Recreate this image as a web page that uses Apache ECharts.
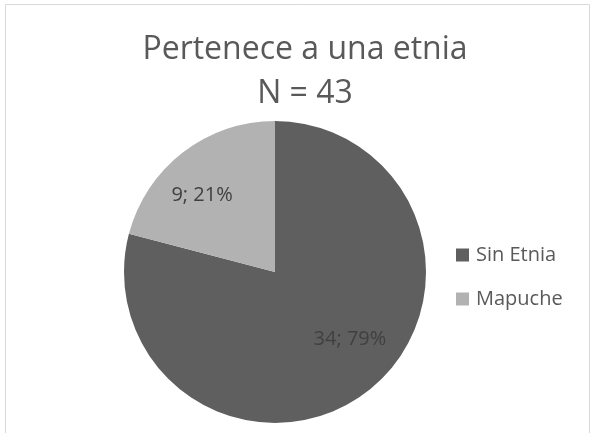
<!DOCTYPE html>
<html>
<head>
<meta charset="utf-8">
<script src="https://cdn.jsdelivr.net/npm/echarts@6/dist/echarts.min.js"></script>
<style>
  html, body { margin: 0; padding: 0; background: #fff; }
  #chart { width: 596px; height: 433px; }
</style>
</head>
<body>
<div id="chart"></div>
<script>
const categories = ["Sin Etnia", "Mapuche"];
const counts = [34, 9];
const colors = ["#5f5f5f", "#b2b2b2"];
const titleLines = ["Pertenece a una etnia", "N = 43"];
// label nudges to mimic the original placement
const labelShift = [[27, 5], [-25, -15]];

const chart = echarts.init(document.getElementById("chart"));
const total = counts.reduce((a, b) => a + b, 0);

const titleStyle = {
  fontFamily: "Open Sans",
  fontSize: 32,
  fill: "#595959",
  align: "center",
  verticalAlign: "middle",
};

chart.setOption({
  animation: false,
  textStyle: { fontFamily: "Open Sans" },
  graphic: [
    {
      type: "rect",
      shape: { x: 5.5, y: 4.5, width: 584, height: 440 },
      style: { fill: null, stroke: "#d9d9d9", lineWidth: 1 },
      silent: true,
    },
    { type: "text", x: 305, y: 49.5, style: Object.assign({ text: titleLines[0] }, titleStyle), silent: true },
    { type: "text", x: 305, y: 93.5, style: Object.assign({ text: titleLines[1] }, titleStyle), silent: true },
  ],
  legend: {
    orient: "vertical",
    left: 456,
    top: 245,
    padding: 0,
    itemWidth: 13,
    itemHeight: 13,
    itemGap: 24,
    icon: "rect",
    textStyle: { fontFamily: "Open Sans", fontSize: 20, color: "#595959", padding: [0, 0, 0, 2] },
    data: categories,
  },
  series: [
    {
      type: "pie",
      center: [275, 272],
      radius: 151,
      startAngle: 90,
      clockwise: true,
      color: colors,
      itemStyle: { borderWidth: 0 },
      label: {
        position: "inside",
        fontFamily: "Open Sans",
        fontSize: 20,
        color: "#404040",
        formatter: (p) => p.value + "; " + Math.round((p.value / total) * 100) + "%",
      },
      labelLine: { show: false },
      labelLayout: (p) => ({ dx: labelShift[p.dataIndex][0], dy: labelShift[p.dataIndex][1] }),
      emphasis: { disabled: true },
      data: categories.map((c, i) => ({ name: c, value: counts[i] })),
    },
  ],
});
</script>
</body>
</html>
